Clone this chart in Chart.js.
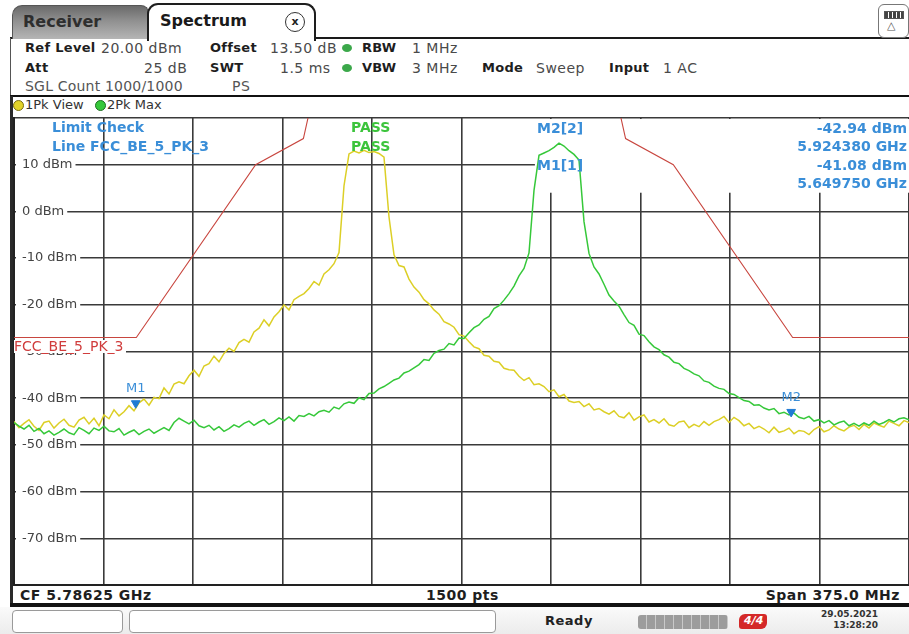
<!DOCTYPE html>
<html>
<head>
<meta charset="utf-8">
<title>Spectrum</title>
<script src="https://cdn.jsdelivr.net/npm/chart.js@4.4.1/dist/chart.umd.min.js"></script>
<style>
html,body{margin:0;padding:0}
body{width:909px;height:634px;overflow:hidden;background:#fff;position:relative;font-family:"DejaVu Sans",Verdana,sans-serif;}
.t{position:absolute;white-space:nowrap;line-height:16px}
.hdr{font-size:14px;letter-spacing:0.5px}
.b{font-weight:bold;color:#1e1e1e;font-size:13px;letter-spacing:0.3px}
.v{color:#4a4a4a}
.blue{color:#3a8ed8;font-weight:bold;font-size:14px}
.pass{color:#3cc43c;font-weight:bold;font-size:14px}
.st{font-weight:bold;color:#1e1e1e;font-size:14px;letter-spacing:0.5px}
.box{position:absolute}
#tabR{position:absolute;left:12px;top:5px;width:135px;height:33px;border:1px solid #555;border-bottom:none;border-radius:10px 8px 0 0;background:linear-gradient(180deg,#6a6a6a 0%,#909090 45%,#b5b5b5 100%)}
#tabS{position:absolute;left:147px;top:3px;width:165px;height:36px;border:2px solid #1e1e1e;border-bottom:none;border-radius:11px 11px 0 0;background:#fff;z-index:2}
.dot{position:absolute;border-radius:50%}
#cv{position:absolute;left:12px;top:116px}
</style>
</head>
<body>
<!-- header chrome -->
<div class="box" style="left:10px;top:37px;width:899px;height:2px;background:#1a1a1a"></div>
<div id="tabR"><div class="t" style="left:10px;top:8px;font-size:16px;font-weight:bold;color:#2e2e2e">Receiver</div></div>
<div id="tabS">
  <div class="t" style="left:11px;top:8px;font-size:16px;font-weight:bold;color:#1a1a1a">Spectrum</div>
  <div class="t" style="left:136px;top:7px;width:18px;height:18px;border:1.5px solid #333;border-radius:50%;text-align:center;font-size:11px;font-weight:bold;line-height:17px;color:#222">x</div>
</div>
<div class="box" style="left:878px;top:4px;width:29px;height:32px;border:1.5px solid #777;border-radius:6px;background:#fff"></div>
<div class="box" style="left:884px;top:11px;width:18px;height:6px;border:1px solid #555;background:repeating-linear-gradient(90deg,#444 0 3px,#fff 3px 4px)"></div>
<div class="t" style="left:887px;top:18px;font-size:11px;color:#555">△</div>

<div class="box" style="left:10px;top:38px;width:1px;height:58px;background:#555"></div>
<div class="t b" style="left:25px;top:40px">Ref Level</div>
<div class="t hdr v" style="left:101px;top:40px">20.00 dBm</div>
<div class="t b" style="left:210px;top:40px">Offset</div>
<div class="t hdr v" style="left:270px;top:40px">13.50 dB</div>
<div class="dot" style="left:342px;top:44px;width:10px;height:8px;background:#3ba84a"></div>
<div class="t b" style="left:362px;top:40px">RBW</div>
<div class="t hdr v" style="left:412px;top:40px">1 MHz</div>

<div class="t b" style="left:25px;top:60px">Att</div>
<div class="t hdr v" style="left:144px;top:60px">25 dB</div>
<div class="t b" style="left:210px;top:60px">SWT</div>
<div class="t hdr v" style="left:280px;top:60px">1.5 ms</div>
<div class="dot" style="left:342px;top:64px;width:10px;height:8px;background:#3ba84a"></div>
<div class="t b" style="left:362px;top:60px">VBW</div>
<div class="t hdr v" style="left:412px;top:60px">3 MHz</div>
<div class="t b" style="left:482px;top:60px">Mode</div>
<div class="t hdr v" style="left:536px;top:60px">Sweep</div>
<div class="t b" style="left:609px;top:60px">Input</div>
<div class="t hdr v" style="left:663px;top:60px">1 AC</div>

<div class="t hdr v" style="left:25px;top:78px;color:#555;letter-spacing:0.2px">SGL Count 1000/1000</div>
<div class="t hdr v" style="left:232px;top:78px;color:#555">PS</div>

<div class="box" style="left:10px;top:95px;width:899px;height:2px;background:#111"></div>
<div class="box" style="left:10px;top:96px;width:3px;height:511px;background:#2a2a2a"></div>

<!-- trace legend -->
<div class="dot" style="left:13px;top:100px;width:9px;height:9px;background:#e2d32a;border:1px solid #7a6f10"></div>
<div class="t" style="left:25px;top:97px;font-size:13px;color:#333">1Pk View</div>
<div class="dot" style="left:95px;top:100px;width:9px;height:9px;background:#36c83a;border:1px solid #1f6e22"></div>
<div class="t" style="left:107px;top:97px;font-size:13px;color:#333">2Pk Max</div>

<canvas id="cv" width="897" height="470"></canvas>

<!-- in-diagram annotations -->
<div class="t blue" style="left:52px;top:119px">Limit Check</div>
<div class="t blue" style="left:52px;top:138px">Line FCC_BE_5_PK_3</div>
<div class="t pass" style="left:351px;top:119px">PASS</div>
<div class="t pass" style="left:351px;top:138px">PASS</div>
<div class="t blue" style="left:537px;top:120px">M2[2]</div>
<div class="t blue" style="left:537px;top:157px">M1[1]</div>
<div class="t blue" style="right:2px;top:120px">-42.94 dBm</div>
<div class="t blue" style="right:2px;top:138px">5.924380 GHz</div>
<div class="t blue" style="right:2px;top:157px">-41.08 dBm</div>
<div class="t blue" style="right:2px;top:175px">5.649750 GHz</div>
<div class="t" style="left:14px;top:340px;font-size:14px;line-height:13px;color:#d03c3c;background:#fff;padding-right:2px">FCC_BE_5_PK_3</div>

<!-- status row -->
<div class="t st" style="left:20px;top:587px">CF 5.78625 GHz</div>
<div class="t st" style="left:426px;top:587px">1500 pts</div>
<div class="t st" style="right:9px;top:587px">Span 375.0 MHz</div>
<div class="box" style="left:10px;top:603px;width:899px;height:4px;background:#111"></div>

<!-- bottom bar -->
<div class="box" style="left:0;top:607px;width:909px;height:27px;background:linear-gradient(180deg,#fafafa,#ececec)"></div>
<div class="box" style="left:12px;top:610px;width:109px;height:21px;border:1px solid #9a9a9a;border-radius:4px;background:#fff"></div>
<div class="box" style="left:129px;top:610px;width:365px;height:21px;border:1px solid #9a9a9a;border-radius:4px;background:#fff"></div>
<div class="t" style="left:545px;top:613px;font-size:13px;font-weight:bold;color:#222;letter-spacing:0.5px">Ready</div>
<div class="box" style="left:638px;top:615px;width:90px;height:14px;border-radius:3px;background:repeating-linear-gradient(90deg,#9c9c9c 0 8px,#c9c9c9 8px 9px)"></div>
<div class="box" style="left:739px;top:614px;width:28px;height:15px;border-radius:6px 3px 6px 3px;background:#d42828"></div>
<div class="t" style="left:744px;top:613px;font-size:11px;font-weight:bold;color:#fff;font-style:italic">4/4</div>
<div class="t" style="right:31px;top:609px;font-size:9px;font-weight:bold;color:#333;line-height:11px">29.05.2021</div>
<div class="t" style="right:31px;top:620px;font-size:9px;font-weight:bold;color:#333;line-height:11px">13:28:20</div>

<script>
// Sweep: CF 5.78625 GHz, span 375 MHz
const startGHz = 5.59875;
const stopGHz = 5.97375;

// Trace 1 (1Pk View, yellow), dBm, evenly spaced across the span
const yellowTraceDbm = [
-45.0,-46.3,-45.4,-44.6,-46.0,-46.9,-45.2,-44.9,-46.4,-45.3,
-44.5,-45.8,-46.2,-44.7,-44.1,-45.5,-44.3,-45.9,-43.6,-44.4,
-42.5,-43.8,-42.9,-41.6,-42.7,-41.0,-40.2,-41.5,-39.8,-40.1,
-37.8,-39.1,-37.0,-36.5,-36.9,-35.2,-34.0,-35.3,-33.1,-32.6,
-31.0,-32.2,-30.4,-29.3,-30.0,-28.1,-27.4,-28.0,-25.8,-25.0,
-23.2,-24.5,-22.6,-21.5,-20.0,-21.1,-18.9,-18.2,-17.6,-16.5,
-15.0,-15.8,-13.4,-12.5,-11.2,-8.8,5.5,12.3,12.9,12.5,
13.1,12.6,12.8,12.4,11.6,-1.2,-9.3,-11.6,-11.9,-14.5,
-16.2,-17.3,-18.9,-19.8,-21.1,-22.0,-23.6,-24.1,-24.8,-26.4,
-26.7,-27.9,-29.0,-29.4,-30.8,-31.0,-32.1,-32.3,-33.6,-33.9,
-34.0,-35.3,-36.2,-35.6,-37.1,-36.9,-37.5,-38.6,-38.2,-39.7,
-39.2,-40.6,-40.9,-40.7,-41.8,-41.2,-42.5,-42.2,-42.9,-43.4,
-42.7,-43.9,-44.2,-43.1,-44.7,-44.0,-43.6,-45.1,-44.6,-45.3,
-44.4,-45.7,-46.0,-45.1,-44.9,-46.3,-45.6,-46.1,-45.0,-45.8,
-45.0,-44.6,-43.9,-45.2,-44.1,-44.8,-45.9,-45.4,-46.5,-46.0,
-46.6,-47.4,-46.2,-47.3,-47.0,-46.4,-47.6,-46.9,-47.1,-47.8,
-46.7,-46.1,-47.2,-46.8,-45.9,-46.6,-47.0,-46.2,-45.8,-46.7,
-45.6,-46.4,-45.3,-45.8,-46.2,-44.9,-45.4,-45.9,-44.8,-45.2
];

// Trace 2 (2Pk Max, green), dBm
const greenTraceDbm = [
-45.2,-46.0,-46.6,-45.8,-47.1,-46.5,-47.6,-47.0,-47.9,-47.3,
-46.6,-47.4,-47.8,-46.3,-46.9,-47.6,-46.4,-46.9,-46.0,-47.0,
-47.2,-46.5,-47.9,-47.3,-46.8,-47.8,-47.1,-46.6,-47.5,-46.9,
-46.3,-46.9,-45.2,-44.3,-44.9,-45.5,-44.7,-45.9,-46.3,-45.8,
-46.8,-46.1,-47.1,-46.5,-45.7,-46.2,-45.4,-44.9,-45.8,-45.1,
-44.6,-45.6,-45.0,-44.2,-44.8,-44.0,-44.9,-43.7,-43.9,-43.3,
-43.8,-42.9,-42.6,-43.0,-41.9,-42.3,-41.2,-40.8,-41.1,-39.9,
-40.3,-39.0,-38.9,-38.0,-37.5,-36.8,-36.1,-35.7,-34.6,-34.2,
-33.5,-32.8,-31.7,-31.9,-30.4,-29.8,-29.5,-28.3,-28.6,-27.1,
-27.2,-26.0,-24.9,-24.3,-23.1,-22.5,-20.8,-20.2,-19.0,-17.6,
-16.0,-13.8,-12.2,-8.9,4.5,12.0,12.5,13.0,13.7,14.6,
14.0,13.0,12.2,11.0,-2.2,-9.0,-11.9,-13.4,-15.6,-17.9,
-19.2,-20.3,-22.1,-23.8,-24.4,-26.3,-26.6,-27.9,-29.0,-29.6,
-30.7,-31.2,-32.3,-32.6,-33.6,-34.1,-34.8,-35.2,-36.3,-36.6,
-37.4,-37.9,-38.1,-39.0,-39.2,-39.9,-40.5,-40.7,-41.5,-41.4,
-42.1,-42.5,-42.2,-43.3,-43.0,-43.6,-43.2,-44.1,-44.4,-43.9,
-44.9,-44.6,-45.3,-44.8,-45.7,-45.2,-44.9,-45.9,-45.4,-46.0,
-45.3,-45.8,-44.9,-45.6,-45.2,-44.6,-45.1,-44.4,-44.2,-44.6
];

// Limit line FCC_BE_5_PK_3
const limitFreqGHz = [5.59875, 5.650, 5.700, 5.720, 5.725, 5.850, 5.855, 5.875, 5.925, 5.97375];
const limitLevelDbm = [-27, -27, 10, 15.6, 27, 27, 15.6, 10, -27, -27];

// Markers
const markerNames = ['M1', 'M2'];
const markerFreqGHz = [5.64975, 5.92438];
const markerLevelDbm = [-41.08, -42.94];

// Axis: ref level 20 dBm, 10 dB/div
const yTopDbm = 20;
const yBottomDbm = -80;
const yStepDbm = 10;
const xDivisions = 10;

const stepGHz = (stopGHz - startGHz) / (yellowTraceDbm.length - 1);
const toPts = arr => arr.map((v, i) => ({x: startGHz + i * stepGHz, y: v}));
const divGHz = (stopGHz - startGHz) / xDivisions;
const xGrid = [];
for (let k = 0; k <= xDivisions; k++) xGrid.push(startGHz + k * divGHz);

const overlayPlugin = {
  id: 'overlay',
  beforeDatasetsDraw(chart) {
    const {ctx, chartArea, scales: {x, y}} = chart;
    // white marker-info panel in the upper right of the diagram
    const l = x.getPixelForValue(5.817);
    const t = y.getPixelForValue(yTopDbm) + 1;
    const b = y.getPixelForValue(4);
    ctx.save();
    ctx.fillStyle = '#fff';
    ctx.fillRect(l, t, chartArea.right - l, b - t);
    ctx.restore();
  },
  afterDatasetsDraw(chart) {
    const {ctx} = chart;
    const meta = chart.getDatasetMeta(0);
    ctx.save();
    ctx.font = '13px "DejaVu Sans"';
    ctx.fillStyle = '#3a8ed8';
    ctx.textAlign = 'center';
    ctx.textBaseline = 'alphabetic';
    meta.data.forEach((pt, i) => ctx.fillText(markerNames[i], pt.x, pt.y - 11));
    ctx.restore();
  }
};

const flatten = axis => {
  if (axis.isHorizontal()) axis.height = 0; else axis.width = 0;
  axis.paddingTop = 0; axis.paddingBottom = 0; axis.paddingLeft = 0; axis.paddingRight = 0;
};

new Chart(document.getElementById('cv'), {
  type: 'line',
  data: {
    datasets: [
      {
        label: 'Markers',
        type: 'scatter',
        data: markerFreqGHz.map((f, i) => ({x: f, y: markerLevelDbm[i]})),
        pointStyle: 'triangle',
        rotation: 180,
        pointRadius: 5,
        backgroundColor: '#1f7bd3',
        borderColor: '#1f7bd3',
        borderWidth: 1,
        showLine: false
      },
      {
        label: '2Pk Max',
        data: toPts(greenTraceDbm),
        borderColor: '#36c83a',
        borderWidth: 1.5,
        pointRadius: 0,
        tension: 0
      },
      {
        label: '1Pk View',
        data: toPts(yellowTraceDbm),
        borderColor: '#dccf26',
        borderWidth: 1.5,
        pointRadius: 0,
        tension: 0
      },
      {
        label: 'FCC_BE_5_PK_3',
        data: limitFreqGHz.map((f, i) => ({x: f, y: limitLevelDbm[i]})),
        borderColor: '#c8463f',
        borderWidth: 1.1,
        pointRadius: 0,
        tension: 0
      }
    ]
  },
  options: {
    responsive: false,
    animation: false,
    devicePixelRatio: 1,
    layout: {autoPadding: false, padding: {left: 2, top: 2, right: 0, bottom: 1}},
    plugins: {legend: {display: false}, tooltip: {enabled: false}},
    scales: {
      x: {
        type: 'linear',
        min: startGHz,
        max: stopGHz,
        afterBuildTicks: axis => { axis.ticks = xGrid.map(v => ({value: v})); },
        afterFit: flatten,
        ticks: {display: false},
        grid: {color: '#3a3a3a', lineWidth: 1.6, drawTicks: false},
        border: {display: true, color: '#222', width: 2}
      },
      y: {
        min: yBottomDbm,
        max: yTopDbm,
        afterFit: flatten,
        ticks: {
          stepSize: yStepDbm,
          mirror: true,
          padding: 8,
          color: '#444',
          font: {family: '"DejaVu Sans"', size: 13},
          callback: v => (v === yTopDbm || v === yBottomDbm) ? '' : v + ' dBm',
          showLabelBackdrop: c => c.tick.value !== yTopDbm && c.tick.value !== yBottomDbm,
          backdropColor: '#fff',
          backdropPadding: {left: 6, right: 3, top: 0, bottom: 0}
        },
        grid: {color: '#3a3a3a', lineWidth: 1.6, drawTicks: false},
        border: {display: true, color: '#222', width: 2}
      }
    }
  },
  plugins: [overlayPlugin]
});
</script>
</body>
</html>
